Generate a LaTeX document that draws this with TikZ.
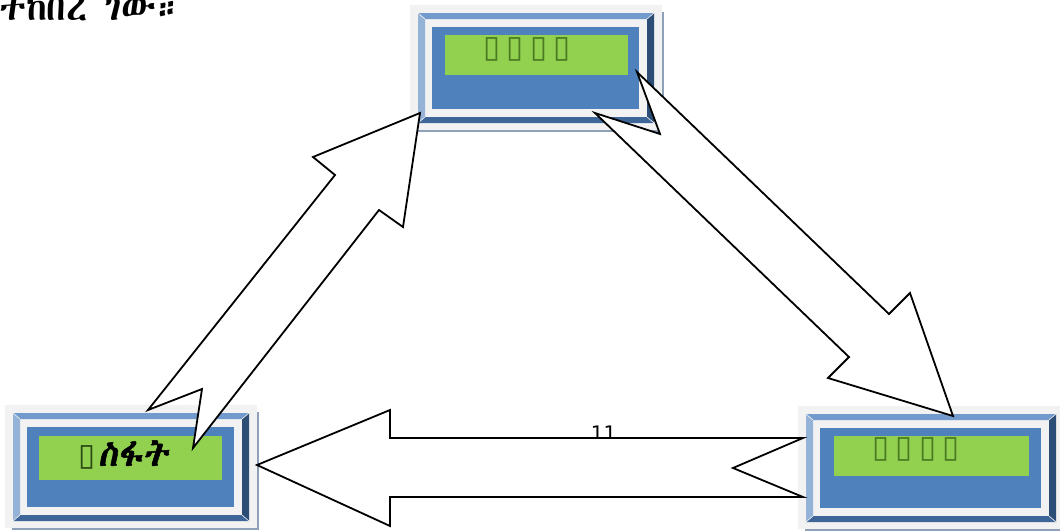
\documentclass[tikz,border=0pt]{standalone}
\usepackage{fontspec}
\usetikzlibrary{calc}
\newfontfamily\dejavu{DejaVu Sans}
\IfFontExistsTF{Abyssinica SIL}
  {\newfontfamily\ethi{Abyssinica SIL}\newfontfamily\ethib[FakeSlant=0.18,FakeBold=1.5]{Abyssinica SIL}}
  {\IfFontExistsTF{FreeSerif}
    {\newfontfamily\ethi{FreeSerif}\newfontfamily\ethib[FakeSlant=0.18,FakeBold=1.5]{FreeSerif}}
    {\newfontfamily\ethi{DejaVu Sans}\newfontfamily\ethib[FakeSlant=0.18,FakeBold=1.5]{DejaVu Sans}}}
\definecolor{frameg}{HTML}{F2F2F2}
\definecolor{shadowc}{HTML}{8FA1B8}
\definecolor{btop}{HTML}{729ACC}
\definecolor{bleft}{HTML}{95B3D7}
\definecolor{bright}{HTML}{2C4D75}
\definecolor{bbot}{HTML}{3E6699}
\definecolor{bluec}{HTML}{4F81BD}
\definecolor{lgreen}{HTML}{92D050}
\definecolor{tgreen}{HTML}{4A7A22}
\newcommand\tofugap{\hspace{6.5pt}}
\tikzset{
  boxframe/.style={rectangle, fill=frameg, draw=none, inner sep=0pt, outer sep=0pt},
  labelbg/.style={rectangle, fill=lgreen, draw=none, inner sep=0pt, outer sep=0pt, anchor=north west},
  tofu/.style={font=\dejavu\fontsize{31}{31}\selectfont, text=tgreen, inner sep=0pt, anchor=west},
  blockarrow/.style={draw=black, fill=white, line width=1.8pt, line join=miter, miter limit=20},
  bevsep/.style={draw=frameg, line width=0.6pt}
}
\newcommand\bevelbox[1]{%
  \draw[shadowc, line width=2pt] ($(#1.north east)+(1,7)$) -- ($(#1.south east)+(1,1)$) -- ($(#1.south west)+(7,1)$);
  \coordinate (#1onw) at ($(#1.north west)+(8,8)$);
  \coordinate (#1one) at ($(#1.north east)+(-8,8)$);
  \coordinate (#1osw) at ($(#1.south west)+(8,-7)$);
  \coordinate (#1ose) at ($(#1.south east)+(-8,-7)$);
  \coordinate (#1inw) at ($(#1.north west)+(15,14)$);
  \coordinate (#1ine) at ($(#1.north east)+(-15,14)$);
  \coordinate (#1isw) at ($(#1.south west)+(15,-13)$);
  \coordinate (#1ise) at ($(#1.south east)+(-15,-13)$);
  \fill[btop] (#1onw) -- (#1one) -- (#1ine) -- (#1inw) -- cycle;
  \fill[bbot] (#1osw) -- (#1ose) -- (#1ise) -- (#1isw) -- cycle;
  \fill[bleft] (#1onw) -- (#1osw) -- (#1isw) -- (#1inw) -- cycle;
  \fill[bright] (#1one) -- (#1ose) -- (#1ise) -- (#1ine) -- cycle;
  \draw[bevsep] (#1onw) -- (#1inw) (#1one) -- (#1ine) (#1osw) -- (#1isw) (#1ose) -- (#1ise);
  \fill[bluec] ($(#1.north west)+(22,22)$) rectangle ($(#1.south east)+(-23,-21)$);
}
\begin{document}
\begin{tikzpicture}[x=1pt,y=-1pt]
\useasboundingbox[fill=white] (0,0) rectangle (1060,531);

% heading text (cropped at the top)
\node[font=\ethi\fontsize{37}{37}\selectfont, anchor=base west, inner sep=0pt] (head) at (-1,20) {ተከበረ ገው።};

% boxes
\node[boxframe, minimum width=252pt, minimum height=125pt, anchor=north west] (top) at (410,5) {};
\bevelbox{top}
\node[labelbg, minimum width=183pt, minimum height=40pt] (topg) at ($(top.north west)+(35,30)$) {};
\node[tofu] (toptxt) at ($(topg.north west)+(38,14)$) {▯\tofugap▯\tofugap▯\tofugap▯};

\node[boxframe, minimum width=252pt, minimum height=123pt, anchor=north west] (bl) at (5,405) {};
\bevelbox{bl}
\node[labelbg, minimum width=183pt, minimum height=44pt] (blg) at ($(bl.north west)+(34,31)$) {};
\node[inner sep=0pt, anchor=west] (bltxt) at ($(blg.north west)+(39,19)$) {{\dejavu\fontsize{31}{31}\selectfont\color{tgreen!60!black}▯}\hspace{3pt}{\ethib\fontsize{35}{35}\selectfont ስፋት}};

\node[boxframe, minimum width=266pt, minimum height=123pt, anchor=north west] (br) at (798,406) {};
\bevelbox{br}
\node[labelbg, minimum width=195pt, minimum height=40pt] (brg) at ($(br.north west)+(36,30)$) {};
\node[tofu] (brtxt) at ($(brg.north west)+(38,13)$) {▯\tofugap▯\tofugap▯\tofugap▯};

% label of the lower arrow
\node[font=\dejavu\fontsize{20}{20}\selectfont, anchor=base, inner sep=0pt] (lab) at (603.5,440) {11};

% block arrows
% bl -> top
\draw[blockarrow] (420,113) -- (313,157) -- (335,175) -- (148,410) -- (202,389) -- (193,448) -- (379,210) -- (403,227) -- cycle;
% top -> br
\draw[blockarrow] (637,72) -- (660,134) -- (595,113) -- (849,357) -- (828,378) -- (953,416) -- (910,293) -- (889,314) -- cycle;
% br -> bl
\draw[blockarrow] (803,438) -- (390,438) -- (390,410) -- (257,465) -- (390,526) -- (390,497) -- (803,497) -- (733,468) -- cycle;
\end{tikzpicture}
\end{document}
